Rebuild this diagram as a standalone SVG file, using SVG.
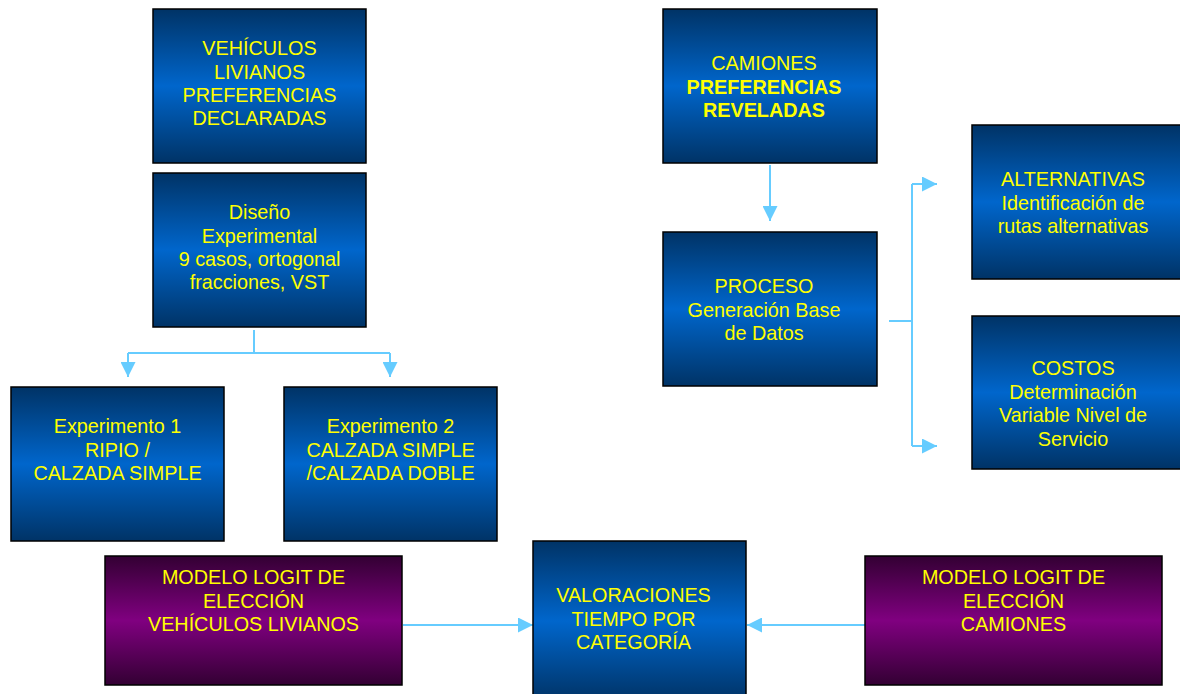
<svg xmlns="http://www.w3.org/2000/svg" width="1180" height="694" viewBox="0 0 1180 694">
<style>
.box{stroke:#000;stroke-width:1.5}
.blue{fill:url(#gb)}
.purple{fill:url(#gp)}
text{font-family:"Liberation Sans",Arial,sans-serif;font-size:19.8px;fill:#ffff00;text-anchor:middle}
.b{font-weight:bold}
.con{fill:none;stroke:#66ccff;stroke-width:2}
</style>
<defs>
<linearGradient id="gb" x1="0" y1="0" x2="0" y2="1">
<stop offset="0" stop-color="#003366"/>
<stop offset="0.5" stop-color="#0066cc"/>
<stop offset="1" stop-color="#003366"/>
</linearGradient>
<linearGradient id="gp" x1="0" y1="0" x2="0" y2="1">
<stop offset="0" stop-color="#330033"/>
<stop offset="0.5" stop-color="#800080"/>
<stop offset="1" stop-color="#330033"/>
</linearGradient>
<marker id="ah" viewBox="0 0 10 10" refX="10" refY="5" markerWidth="15" markerHeight="15" markerUnits="userSpaceOnUse" orient="auto">
<path d="M0,0 L10,5 L0,10 Z" fill="#66ccff"/>
</marker>
</defs>
<g id="connectors">
<path class="con" d="M254,330 V353 M128,353 H390" />
<path class="con" d="M128,353 V377" marker-end="url(#ah)"/>
<path class="con" d="M390,353 V377" marker-end="url(#ah)"/>
<path class="con" d="M770,165 V221" marker-end="url(#ah)"/>
<path class="con" d="M889,321 H912 M912,184 V446"/>
<path class="con" d="M912,184 H937" marker-end="url(#ah)"/>
<path class="con" d="M912,446 H937" marker-end="url(#ah)"/>
<path class="con" d="M403,625 H533" marker-end="url(#ah)"/>
<path class="con" d="M865,625 H747" marker-end="url(#ah)"/>
</g>
<g id="n1"><rect class="box blue" x="153" y="9" width="213" height="154"/>
<text x="259.5" y="55">VEHÍCULOS</text><text x="259.5" y="78.5">LIVIANOS</text><text x="259.5" y="102">PREFERENCIAS</text><text x="259.5" y="125">DECLARADAS</text></g>
<g id="n2"><rect class="box blue" x="153" y="173" width="213" height="154"/>
<text x="259.5" y="219">Diseño</text><text x="259.5" y="242.5">Experimental</text><text x="259.5" y="266">9 casos, ortogonal</text><text x="259.5" y="289">fracciones, VST</text></g>
<g id="n3"><rect class="box blue" x="11" y="387" width="213" height="154"/>
<text x="117.5" y="433">Experimento 1</text><text x="117.5" y="456.5">RIPIO /</text><text x="117.5" y="480">CALZADA SIMPLE</text></g>
<g id="n4"><rect class="box blue" x="284" y="387" width="213" height="154"/>
<text x="390.5" y="433">Experimento 2</text><text x="390.5" y="456.5">CALZADA SIMPLE</text><text x="390.5" y="480">/CALZADA DOBLE</text></g>
<g id="n5"><rect class="box purple" x="105" y="556" width="297" height="129"/>
<text x="253.5" y="584">MODELO LOGIT DE</text><text x="253.5" y="607.5">ELECCIÓN</text><text x="253.5" y="631">VEHÍCULOS LIVIANOS</text></g>
<g id="n6"><rect class="box blue" x="533" y="541" width="213" height="160"/>
<text x="633.5" y="602">VALORACIONES</text><text x="633.5" y="625.5">TIEMPO POR</text><text x="633.5" y="649">CATEGORÍA</text></g>
<g id="n7"><rect class="box purple" x="865" y="556" width="297" height="129"/>
<text x="1013.5" y="584">MODELO LOGIT DE</text><text x="1013.5" y="607.5">ELECCIÓN</text><text x="1013.5" y="631">CAMIONES</text></g>
<g id="n8"><rect class="box blue" x="663" y="9" width="214" height="154"/>
<text x="764" y="70">CAMIONES</text><text class="b" x="764" y="93.5">PREFERENCIAS</text><text class="b" x="764" y="117">REVELADAS</text></g>
<g id="n9"><rect class="box blue" x="663" y="232" width="214" height="154"/>
<text x="764" y="293">PROCESO</text><text x="764" y="316.5">Generación Base</text><text x="764" y="340">de Datos</text></g>
<g id="n10"><rect class="box blue" x="972" y="125" width="213" height="154"/>
<text x="1073" y="186">ALTERNATIVAS</text><text x="1073" y="209.5">Identificación de</text><text x="1073" y="233">rutas alternativas</text></g>
<g id="n11"><rect class="box blue" x="972" y="316" width="213" height="153"/>
<text x="1073" y="375">COSTOS</text><text x="1073" y="398.5">Determinación</text><text x="1073" y="422">Variable Nivel de</text><text x="1073" y="446">Servicio</text></g>
</svg>
